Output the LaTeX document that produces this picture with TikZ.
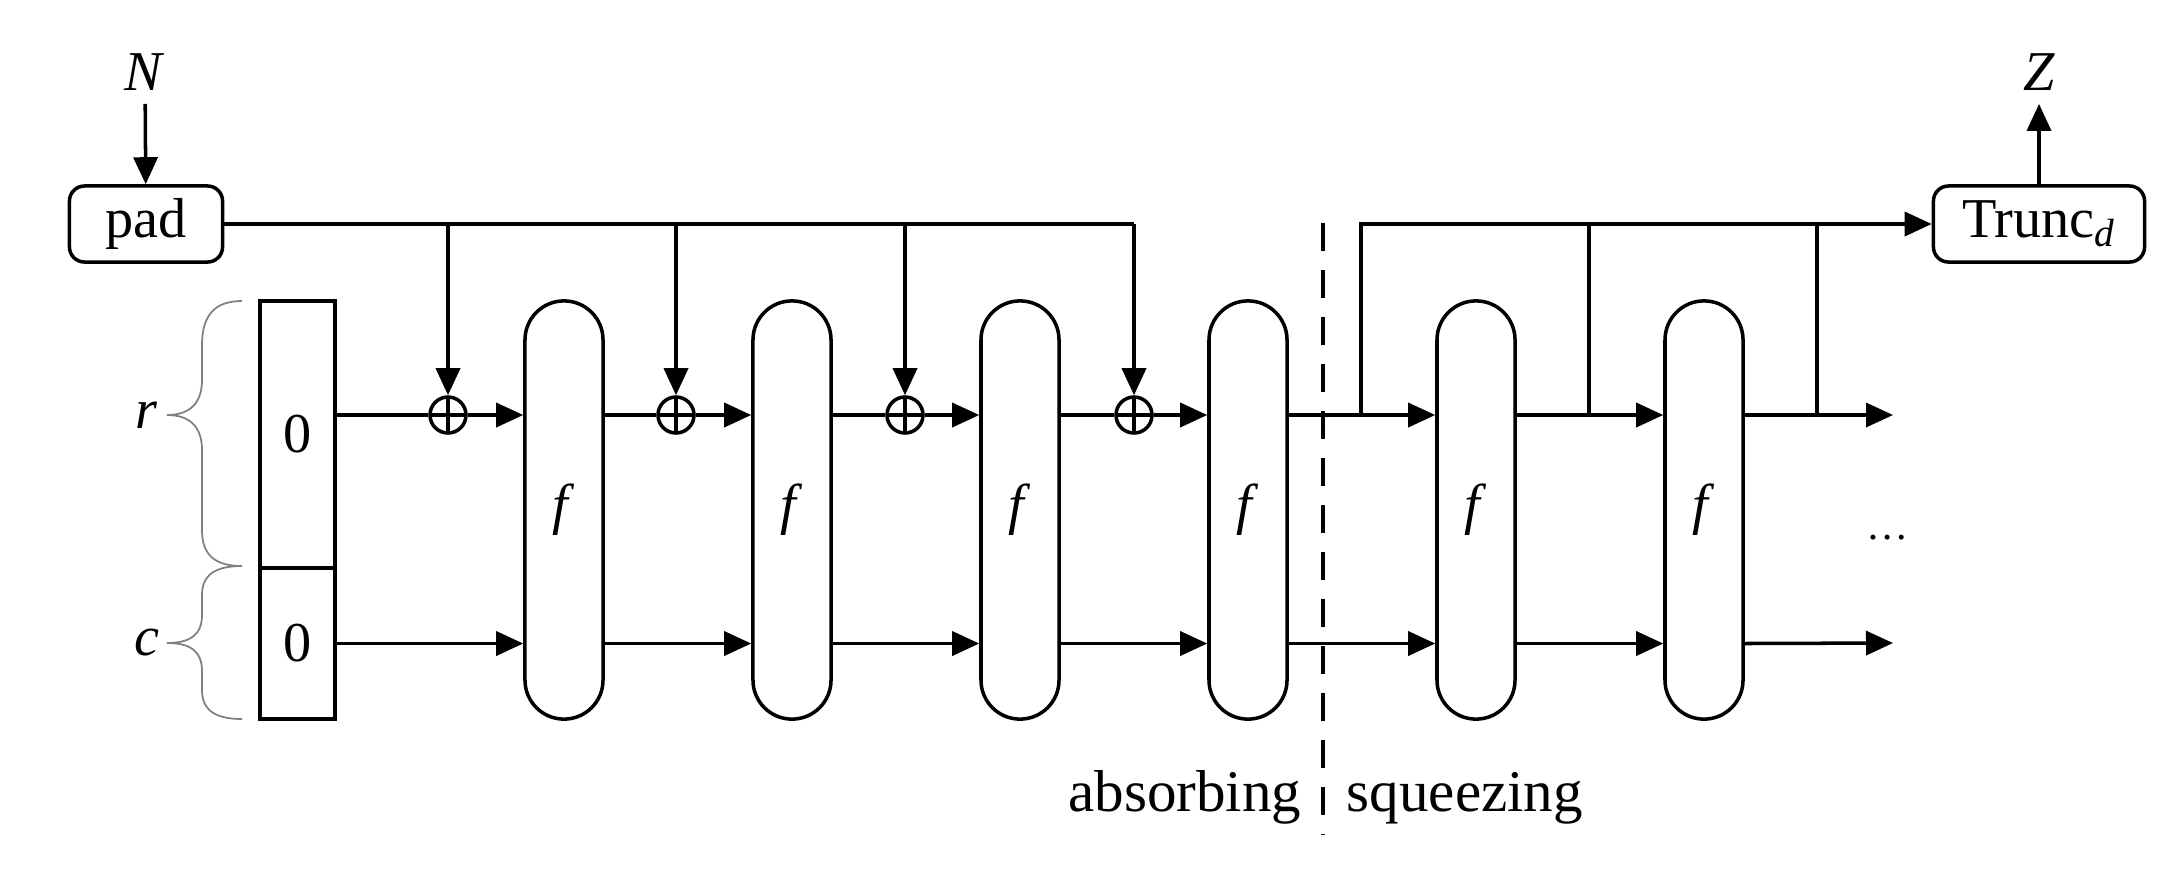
\documentclass[tikz,border=0pt]{standalone}
\usepackage{fontspec}
\setmainfont{Liberation Serif}
\usetikzlibrary{arrows.meta}

\tikzset{
  arr/.style={-{Triangle[length=0.27cm,width=0.24cm]}},
  fblock/.style={draw, rounded corners=0.39cm, minimum width=0.78cm, minimum height=4.18cm, inner sep=0pt},
  rbox/.style={draw, rounded corners=0.15cm, minimum height=0.76cm, inner sep=0pt},
  reg/.style={draw, minimum width=0.75cm, inner sep=0pt},
  xorop/.style={draw, circle, minimum size=0.36cm, inner sep=0pt,
    path picture={\draw (path picture bounding box.north) -- (path picture bounding box.south)
                        (path picture bounding box.west) -- (path picture bounding box.east);}},
  brc/.style={draw=gray, line width=0.5pt},
}

\begin{document}
\begin{tikzpicture}[x=0.01cm, y=-0.01cm, line width=1pt, font=\fontsize{16}{19}\selectfont]
        \useasboundingbox (0,0) rectangle (2182,872);
        % input and output
        \node (N) at (145,72) {\textit{N}};
        \node[rbox, minimum width=1.53cm] (pad) at (146,224) {pad};
        \node[rbox, minimum width=2.11cm] (trunc) at (2039,224) {Trunc\textsubscript{\textit{d}}};
        \node (Z) at (2039,72) {\textit{Z}};
        % state
        \node[reg, minimum height=2.67cm] (regr) at (297.5,434.5) {0};
        \node[reg, minimum height=1.51cm] (regc) at (297.5,643.5) {0};
        \draw[brc] (242,301) .. controls (215,301) and (202,315) .. (202,345) -- (202,380)
            .. controls (202,403) and (190,415) .. (167,415) .. controls (190,415) and (202,427) .. (202,450)
            -- (202,530) .. controls (202,555) and (215,566) .. (242,566);
        \draw[brc] (242,566) .. controls (215,566) and (202,575) .. (202,595) -- (202,615)
            .. controls (202,635) and (190,643) .. (167,643) .. controls (190,643) and (202,651) .. (202,671)
            -- (202,690) .. controls (202,710) and (215,719) .. (242,719);
        \node (rlab) at (147,415) {\textit{r}};
        \node (clab) at (147,643) {\textit{c}};
        % permutations and xors
        \foreach \i/\x in {1/564,2/792,3/1020,4/1248,5/1476,6/1704}
            \node[fblock] (f\i) at (\x,510) {\textit{f}};
        \foreach \i/\x in {1/448,2/676,3/905,4/1134}
            \node[xorop] (x\i) at (\x,415) {};
        \coordinate (t1) at (1361,415);
        \coordinate (t2) at (1589,415);
        \coordinate (t3) at (1817,415);
        \coordinate (outr) at (1893,415);
        \coordinate (outc) at (1893,643);
        \node[font=\fontsize{12}{14}\selectfont] (dots) at (1888,538) {\dots};
        % absorbing
        \draw[arr] (N) -- (pad);
        \draw (pad.east) -- (pad.east -| x4);
        \foreach \i in {1,...,4}
            \draw[arr] (pad.east -| x\i) -- (x\i);
        \draw (regr.east |- x1) -- (x1);
        \draw[arr] (x1) -- (f1.west |- x1);
        \foreach \a/\b in {1/2,2/3,3/4} {
            \draw (f\a.east |- x\a) -- (x\b);
            \draw[arr] (x\b) -- (f\b.west |- x\b);
        }
        \draw[arr] (regc.east) -- (f1.west |- regc);
        \foreach \a/\b in {1/2,2/3,3/4,4/5,5/6}
            \draw[arr] (f\a.east |- regc) -- (f\b.west |- regc);
        % squeezing
        \draw[arr] (f4.east |- x4) -- (f5.west |- x4);
        \draw[arr] (f5.east |- x4) -- (f6.west |- x4);
        \draw[arr] (f6.east |- x4) -- (outr);
        \draw[arr] (f6.east |- regc) -- (outc);
        \draw[arr] (t1) |- (trunc.west);
        \draw (t2) -- (t2 |- trunc.west);
        \draw (t3) -- (t3 |- trunc.west);
        \draw[arr] (trunc) -- (Z);
        % phases
        \draw[line width=0.9pt, dash pattern=on 0.28cm off 0.19cm] (1323,223) -- (1323,835);
        \node[anchor=base east, inner sep=0pt, font=\fontsize{16.8}{20}\selectfont] (absorb) at (1303,811) {absorbing};
        \node[anchor=base west, inner sep=0pt, font=\fontsize{16.8}{20}\selectfont] (squeeze) at (1345,811) {squeezing};
\end{tikzpicture}
\end{document}
